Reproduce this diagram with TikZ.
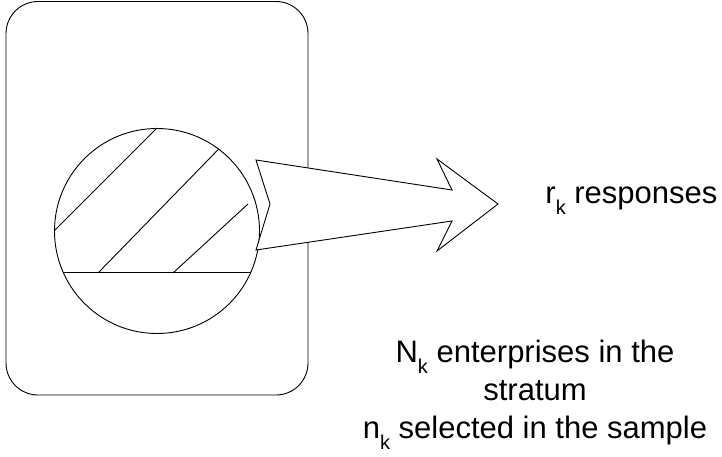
\documentclass[tikz,border=0pt]{standalone}
\usepackage{fontspec}
\setmainfont{Liberation Sans}
\usetikzlibrary{positioning}
\newcommand{\subk}{\raisebox{-11.5pt}{\fontsize{20}{20}\selectfont k}}

\begin{document}
\begin{tikzpicture}[x=1pt,y=-1pt,line width=0.9pt,
  labeltext/.style={font=\fontsize{31}{38}\selectfont, inner sep=0pt}]
  \useasboundingbox (0,0) rectangle (722,457);

  % stratum frame
  \draw[rounded corners=32pt] (6,1.5) rectangle (308,395);

  % sample with hatched respondents
  \node[circle, draw, minimum size=205pt, inner sep=0pt] (sample) at (157,231) {};
  \draw (sample.204) -- (sample.-24);
  \draw (sample.west) -- (sample.north);
  \draw (98,273) -- (sample.53);
  \draw (173,273) -- (248,204);

  % arrow to the responses
  \draw[fill=white] (256,160) -- (270,204) -- (256,250) -- (452,221) -- (437,251)
    -- (498,204) -- (437,159) -- (452,190) -- cycle;

  \node[labeltext, anchor=base west] (resp) at (545,203) {r\subk\ responses};
  \node[labeltext, anchor=base, align=center] (stratum) at (535,438)
    {N\subk\ enterprises in the\\stratum\\n\subk\ selected in the sample};

\end{tikzpicture}
\end{document}
